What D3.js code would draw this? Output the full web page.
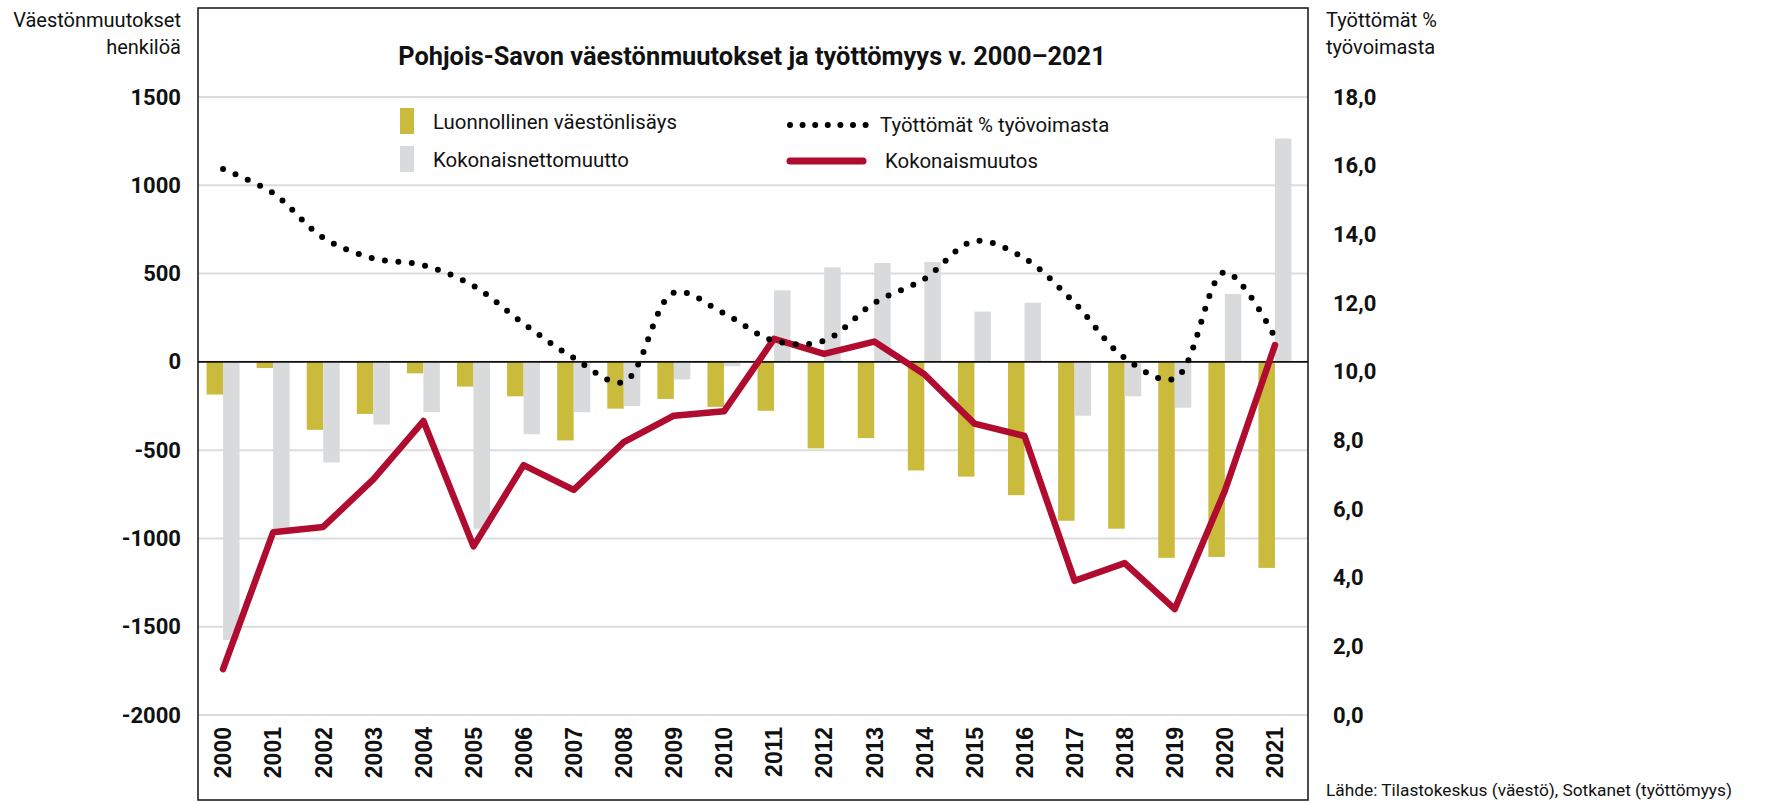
<!DOCTYPE html>
<html>
<head>
<meta charset="utf-8">
<script src="https://cdn.jsdelivr.net/npm/d3@7"></script>
<style>
  body { margin: 0; background: #fff; }
  svg { display: block; }
</style>
</head>
<body>
<div id="chart"></div>
<script>
// data
var years = ["2000","2001","2002","2003","2004","2005","2006","2007","2008","2009","2010",
             "2011","2012","2013","2014","2015","2016","2017","2018","2019","2020","2021"];
var luonnollinen = [-185,-35,-385,-295,-65,-140,-195,-445,-265,-210,-255,
                    -277,-490,-432,-615,-650,-755,-900,-945,-1110,-1105,-1167];
var nettomuutto = [-1575,-945,-570,-355,-285,-945,-410,-285,-250,-100,-25,
                   405,535,560,565,285,335,-305,-195,-260,385,1265];
var kokonaismuutos = [-1740,-965,-935,-665,-335,-1045,-585,-725,-455,-305,-280,
                      130,45,115,-70,-350,-420,-1240,-1140,-1400,-730,95];
var tyottomat = [15.9,15.2,13.9,13.3,13.1,12.5,11.4,10.4,9.7,12.3,11.7,
                 10.9,10.9,12.0,12.7,13.8,13.3,12.0,10.4,9.8,12.9,11.0];
var leftTicks = [1500,1000,500,0,-500,-1000,-1500,-2000];
var rightTicks = [0,2,4,6,8,10,12,14,16,18];

var width = 1765, height = 803;
var font = "Roboto, 'Liberation Sans', sans-serif";
var yellow = "#cbbb3d", grey = "#d9dadc", red = "#b00c2f";

var svg = d3.select("#chart").append("svg")
    .attr("width", width)
    .attr("height", height);

var x = d3.scaleBand().domain(years).range([198, 1300]);
var y = d3.scaleLinear().domain([-2000, 1500]).range([715, 97]);
var y2 = d3.scaleLinear().domain([0, 18]).range([715, 97]);
var barW = 16.5;

// gridlines
svg.append("g").selectAll("line")
    .data(leftTicks)
    .enter().append("line")
    .attr("x1", 198).attr("x2", 1308)
    .attr("y1", d => y(d)).attr("y2", d => y(d))
    .attr("stroke", "#dcdcdc")
    .attr("stroke-width", 2);

// bars
svg.append("g").selectAll("rect")
    .data(years)
    .enter().append("rect")
    .attr("x", d => x(d) + x.bandwidth() / 2 - barW)
    .attr("width", barW)
    .attr("y", (d, i) => y(Math.max(0, luonnollinen[i])))
    .attr("height", (d, i) => Math.abs(y(luonnollinen[i]) - y(0)))
    .attr("fill", yellow);

svg.append("g").selectAll("rect")
    .data(years)
    .enter().append("rect")
    .attr("x", d => x(d) + x.bandwidth() / 2)
    .attr("width", barW)
    .attr("y", (d, i) => y(Math.max(0, nettomuutto[i])))
    .attr("height", (d, i) => Math.abs(y(nettomuutto[i]) - y(0)))
    .attr("fill", grey);

// zero line
svg.append("line")
    .attr("x1", 198).attr("x2", 1308)
    .attr("y1", y(0)).attr("y2", y(0))
    .attr("stroke", "#111")
    .attr("stroke-width", 1.8);

var cx = d => x(d) + x.bandwidth() / 2;

// total change line
var totalLine = d3.line()
    .x(d => cx(d))
    .y((d, i) => y(kokonaismuutos[i]));
svg.append("path")
    .attr("d", totalLine(years))
    .attr("fill", "none")
    .attr("stroke", red)
    .attr("stroke-width", 6.5)
    .attr("stroke-linejoin", "round")
    .attr("stroke-linecap", "round");

// unemployment dotted line
var unempLine = d3.line()
    .curve(d3.curveCatmullRom)
    .x(d => cx(d))
    .y((d, i) => y2(tyottomat[i]));
svg.append("path")
    .attr("d", unempLine(years))
    .attr("fill", "none")
    .attr("stroke", "#000")
    .attr("stroke-width", 6)
    .attr("stroke-linecap", "round")
    .attr("stroke-dasharray", "0 13.5");

// frame
svg.append("rect")
    .attr("x", 198).attr("y", 8)
    .attr("width", 1110).attr("height", 792)
    .attr("fill", "none")
    .attr("stroke", "#111")
    .attr("stroke-width", 1.5);

// left axis
var leftAxis = svg.append("g")
    .attr("transform", "translate(181,0)")
    .call(d3.axisLeft(y).tickValues(leftTicks).tickSize(0).tickPadding(0).tickFormat(d => String(d)));
leftAxis.select(".domain").remove();
leftAxis.selectAll("text")
    .style("font-family", font)
    .style("font-weight", "bold")
    .style("font-size", "22px")
    .attr("fill", "#111");

// right axis
var rightAxis = svg.append("g")
    .attr("transform", "translate(1333,0)")
    .call(d3.axisRight(y2).tickValues(rightTicks).tickSize(0).tickPadding(0)
        .tickFormat(d => d3.format(".1f")(d).replace(".", ",")));
rightAxis.select(".domain").remove();
rightAxis.selectAll("text")
    .style("font-family", font)
    .style("font-weight", "bold")
    .style("font-size", "22px")
    .attr("fill", "#111");

// year labels
var xAxis = svg.append("g")
    .attr("transform", "translate(0,715)")
    .call(d3.axisBottom(x).tickSize(0));
xAxis.select(".domain").remove();
xAxis.selectAll("text")
    .attr("transform", "rotate(-90)")
    .attr("x", -12)
    .attr("y", 0)
    .attr("dy", "0.36em")
    .style("text-anchor", "end")
    .style("font-family", "'Liberation Sans', Arial, sans-serif")
    .style("font-weight", "bold")
    .style("font-size", "23px")
    .attr("fill", "#111");

// titles
svg.append("text")
    .attr("x", 752).attr("y", 65)
    .attr("text-anchor", "middle")
    .style("font-family", font)
    .style("font-weight", "bold")
    .style("font-size", "25.4px")
    .attr("fill", "#111")
    .text("Pohjois-Savon väestönmuutokset ja työttömyys v. 2000–2021");

svg.selectAll(".ltitle")
    .data(["Väestönmuutokset", "henkilöä"])
    .enter().append("text")
    .attr("x", 181)
    .attr("y", (d, i) => 27 + i * 27)
    .attr("text-anchor", "end")
    .style("font-family", font)
    .style("font-size", "20px")
    .attr("fill", "#111")
    .text(d => d);

svg.selectAll(".rtitle")
    .data(["Työttömät %", "työvoimasta"])
    .enter().append("text")
    .attr("x", 1326)
    .attr("y", (d, i) => 27 + i * 27)
    .style("font-family", font)
    .style("font-size", "20px")
    .attr("fill", "#111")
    .text(d => d);

svg.append("text")
    .attr("x", 1326).attr("y", 796)
    .style("font-family", font)
    .style("font-size", "17.3px")
    .attr("fill", "#111")
    .text("Lähde: Tilastokeskus (väestö), Sotkanet (työttömyys)");

// legend
var legend = svg.append("g")
    .style("font-family", font)
    .style("font-size", "20.4px")
    .attr("fill", "#111");

legend.append("rect").attr("x", 400).attr("y", 108).attr("width", 14).attr("height", 26).attr("fill", yellow);
legend.append("text").attr("x", 433).attr("y", 129).text("Luonnollinen väestönlisäys");
legend.append("rect").attr("x", 400).attr("y", 146).attr("width", 14).attr("height", 26).attr("fill", grey);
legend.append("text").attr("x", 433).attr("y", 167).text("Kokonaisnettomuutto");

legend.append("line")
    .attr("x1", 790).attr("x2", 866).attr("y1", 125).attr("y2", 125)
    .attr("stroke", "#000").attr("stroke-width", 6)
    .attr("stroke-linecap", "round").attr("stroke-dasharray", "0 12.6");
legend.append("text").attr("x", 880).attr("y", 132).text("Työttömät % työvoimasta");
legend.append("line")
    .attr("x1", 790).attr("x2", 863).attr("y1", 161).attr("y2", 161)
    .attr("stroke", red).attr("stroke-width", 7)
    .attr("stroke-linecap", "round");
legend.append("text").attr("x", 885).attr("y", 168).text("Kokonaismuutos");
</script>
</body>
</html>
